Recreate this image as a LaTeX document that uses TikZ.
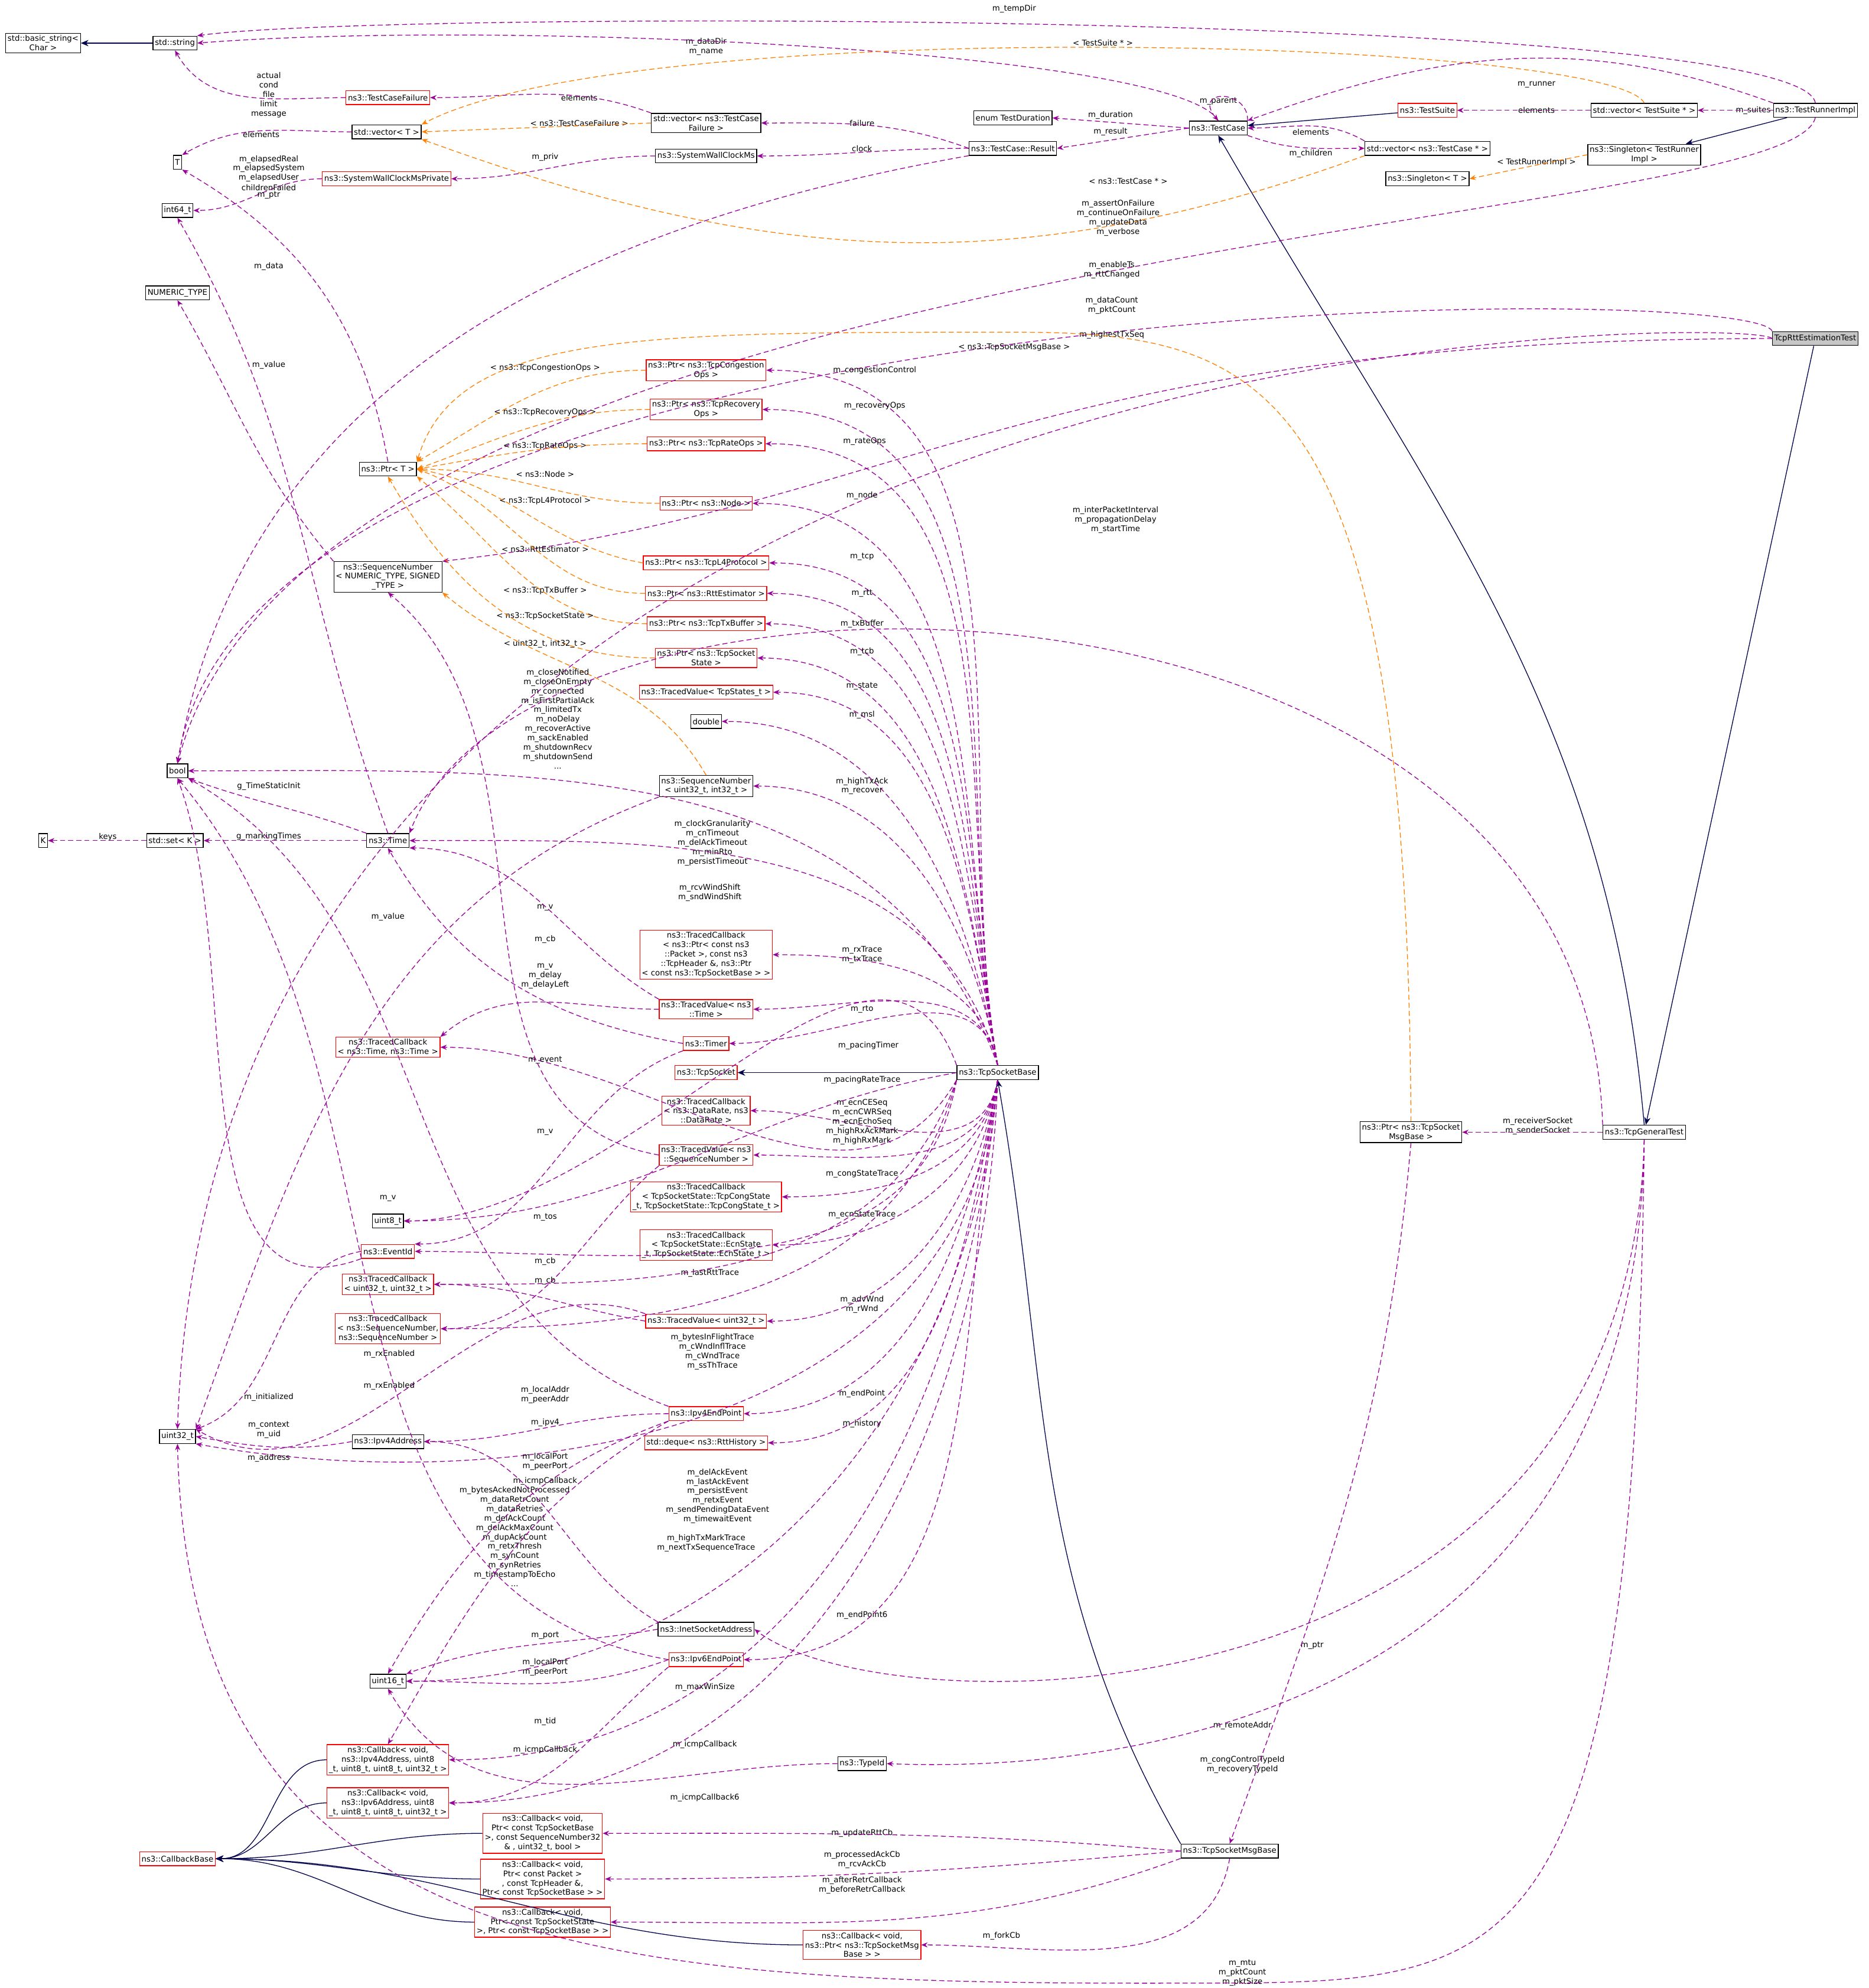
\documentclass[tikz,border=0pt]{standalone}
\usepackage{fontspec}
\setmainfont{DejaVu Sans}
\usetikzlibrary{arrows.meta}
\begin{document}
\begin{tikzpicture}[x=0.5pt,y=-0.5pt,line width=0.3pt,
  font=\fontsize{3.1}{3.7}\selectfont,
  cls/.style={draw=black,fill=white,inner sep=0.75pt,align=center,minimum height=5.5pt},
  rcls/.style={cls,draw=red},
  lbl/.style={align=center,inner sep=0pt},
  use/.style={draw=violet!80!magenta,dashed,dash pattern=on 2pt off 1.2pt,-{Stealth[length=2.5pt,width=2pt]}},
  tmpl/.style={draw=orange,dashed,dash pattern=on 2pt off 1.2pt,-{Stealth[length=2.5pt,width=2pt]}},
  inh/.style={draw=blue!30!black,-{Stealth[length=3pt,width=2.5pt]}}]
\useasboundingbox (0,0) rectangle (1474,1568);
\fill[white] (0,0) rectangle (1474,1568);
% left column
\node[cls] (bstr) at (34,34) {std::basic\_string\textless\\Char \textgreater};
\node[cls] (str) at (138,34) {std::string};
\node[rcls] (tcf) at (306,77) {ns3::TestCaseFailure};
\node[cls] (vecT) at (305,104) {std::vector\textless{} T \textgreater};
\node[cls] (T) at (140,128) {T};
\node[rcls] (swcp) at (305,141) {ns3::SystemWallClockMsPrivate};
\node[cls] (i64) at (140,166) {int64\_t};
\node[cls] (num) at (140,231) {NUMERIC\_TYPE};
\node[cls] (ptrT) at (306,370) {ns3::Ptr\textless{} T \textgreater};
\node[cls] (seqn) at (306,455) {ns3::SequenceNumber\\\textless{} NUMERIC\_TYPE, SIGNED\\\_TYPE \textgreater};
\node[cls] (bool) at (140,608) {bool};
\node[cls] (K) at (34,663) {K};
\node[cls] (setK) at (138,663) {std::set\textless{} K \textgreater};
\node[cls] (time) at (306,663) {ns3::Time};
\node[rcls] (tctt) at (306,826) {ns3::TracedCallback\\\textless{} ns3::Time, ns3::Time \textgreater};
\node[cls] (u8) at (306,963) {uint8\_t};
\node[rcls] (evt) at (306,987) {ns3::EventId};
\node[rcls] (tcu32) at (306,1013) {ns3::TracedCallback\\\textless{} uint32\_t, uint32\_t \textgreater};
\node[rcls] (tcseq) at (306,1048) {ns3::TracedCallback\\\textless{} ns3::SequenceNumber,\\ns3::SequenceNumber \textgreater};
\node[cls] (u32) at (140,1133) {uint32\_t};
\node[cls] (ip4) at (306,1137) {ns3::Ipv4Address};
\node[cls] (u16) at (306,1326) {uint16\_t};
\node[rcls] (cb4) at (306,1388) {ns3::Callback\textless{} void,\\ns3::Ipv4Address, uint8\\\_t, uint8\_t, uint8\_t, uint32\_t \textgreater};
\node[rcls] (cb6) at (306,1422) {ns3::Callback\textless{} void,\\ns3::Ipv6Address, uint8\\\_t, uint8\_t, uint8\_t, uint32\_t \textgreater};
\node[rcls] (cbb) at (140,1466) {ns3::CallbackBase};
% middle column
\node[cls] (vtcf) at (557,97) {std::vector\textless{} ns3::TestCase\\Failure \textgreater};
\node[cls] (swc) at (557,123) {ns3::SystemWallClockMs};
\node[rcls] (pcong) at (557,292) {ns3::Ptr\textless{} ns3::TcpCongestion\\Ops \textgreater};
\node[rcls] (prec) at (557,323) {ns3::Ptr\textless{} ns3::TcpRecovery\\Ops \textgreater};
\node[rcls] (prate) at (557,350) {ns3::Ptr\textless{} ns3::TcpRateOps \textgreater};
\node[rcls] (pnode) at (557,397) {ns3::Ptr\textless{} ns3::Node \textgreater};
\node[rcls] (pl4) at (557,444) {ns3::Ptr\textless{} ns3::TcpL4Protocol \textgreater};
\node[rcls] (prtt) at (557,468) {ns3::Ptr\textless{} ns3::RttEstimator \textgreater};
\node[rcls] (ptx) at (557,492) {ns3::Ptr\textless{} ns3::TcpTxBuffer \textgreater};
\node[rcls] (pst) at (557,519) {ns3::Ptr\textless{} ns3::TcpSocket\\State \textgreater};
\node[rcls] (tvst) at (557,546) {ns3::TracedValue\textless{} TcpStates\_t \textgreater};
\node[cls] (dbl) at (557,569) {double};
\node[cls] (sq32) at (557,620) {ns3::SequenceNumber\\\textless{} uint32\_t, int32\_t \textgreater};
\node[rcls] (tcpk) at (557,753) {ns3::TracedCallback\\\textless{} ns3::Ptr\textless{} const ns3\\::Packet \textgreater, const ns3\\::TcpHeader \&, ns3::Ptr\\\textless{} const ns3::TcpSocketBase \textgreater{} \textgreater};
\node[rcls] (tvtime) at (557,796) {ns3::TracedValue\textless{} ns3\\::Time \textgreater};
\node[rcls] (timer) at (557,823) {ns3::Timer};
\node[rcls] (tsock) at (557,846) {ns3::TcpSocket};
\node[rcls] (tcdr) at (557,876) {ns3::TracedCallback\\\textless{} ns3::DataRate, ns3\\::DataRate \textgreater};
\node[rcls] (tvseq) at (557,911) {ns3::TracedValue\textless{} ns3\\::SequenceNumber \textgreater};
\node[rcls] (tccong) at (557,944) {ns3::TracedCallback\\\textless{} TcpSocketState::TcpCongState\\\_t, TcpSocketState::TcpCongState\_t \textgreater};
\node[rcls] (tcecn) at (557,982) {ns3::TracedCallback\\\textless{} TcpSocketState::EcnState\\\_t, TcpSocketState::EcnState\_t \textgreater};
\node[rcls] (tvu32) at (557,1042) {ns3::TracedValue\textless{} uint32\_t \textgreater};
\node[rcls] (ep4) at (557,1115) {ns3::Ipv4EndPoint};
\node[rcls] (deq) at (557,1138) {std::deque\textless{} ns3::RttHistory \textgreater};
\node[cls] (inet) at (557,1285) {ns3::InetSocketAddress};
\node[rcls] (ep6) at (557,1309) {ns3::Ipv6EndPoint};
\node[cls] (tid) at (680,1391) {ns3::TypeId};
\node[rcls] (cbrtt) at (428,1446) {ns3::Callback\textless{} void,\\Ptr\textless{} const TcpSocketBase\\\textgreater, const SequenceNumber32\\\& , uint32\_t, bool \textgreater};
\node[rcls] (cbproc) at (428,1482) {ns3::Callback\textless{} void,\\Ptr\textless{} const Packet \textgreater\\, const TcpHeader \&,\\Ptr\textless{} const TcpSocketBase \textgreater{} \textgreater};
\node[rcls] (cbaft) at (428,1516) {ns3::Callback\textless{} void,\\Ptr\textless{} const TcpSocketState\\\textgreater, Ptr\textless{} const TcpSocketBase \textgreater{} \textgreater};
\node[rcls] (cbfork) at (680,1534) {ns3::Callback\textless{} void,\\ns3::Ptr\textless{} ns3::TcpSocketMsg\\Base \textgreater{} \textgreater};
% right part
\node[cls] (etd) at (799,93) {enum TestDuration};
\node[cls] (tcr) at (799,117) {ns3::TestCase::Result};
\node[cls] (tc) at (961,101) {ns3::TestCase};
\node[rcls] (ts) at (1126,87) {ns3::TestSuite};
\node[cls] (vts) at (1297,87) {std::vector\textless{} TestSuite * \textgreater};
\node[cls] (tri) at (1432,87) {ns3::TestRunnerImpl};
\node[cls] (vtc) at (1126,117) {std::vector\textless{} ns3::TestCase * \textgreater};
\node[cls] (sgl) at (1297,122) {ns3::Singleton\textless{} TestRunner\\Impl \textgreater};
\node[cls] (sglT) at (1126,141) {ns3::Singleton\textless{} T \textgreater};
\node[cls,fill=gray!45] (rtt) at (1432,267) {TcpRttEstimationTest};
\node[cls] (tsb) at (787,846) {ns3::TcpSocketBase};
\node[cls] (pmsg) at (1113,893) {ns3::Ptr\textless{} ns3::TcpSocket\\MsgBase \textgreater};
\node[cls] (tgt) at (1297,893) {ns3::TcpGeneralTest};
\node[cls] (msg) at (970,1460) {ns3::TcpSocketMsgBase};

% inheritance
\draw[inh] (str) -- (bstr);
\draw[inh] (ts) -- (tc);
\draw[inh] (tri) -- (sgl);
\draw[inh] (tsb) -- (tsock);
\draw[inh] (rtt) -- (tgt);
\draw[inh] (tgt.north) to[out=95,in=-60] (tc.south);
\draw[inh] (msg.north west) to[out=120,in=-80] (tsb.south);
\foreach \c in {cb4,cb6,cbrtt,cbproc,cbaft,cbfork} \draw[inh] (\c.west) to[out=180,in=0] (cbb.east);

% labels (top area)
\node[lbl] (l1) at (212,75) {actual\\cond\\file\\limit\\message};
\draw[use] (tcf.west) to[out=180,in=-60] (str.south);
\node[lbl] (l2) at (457,77) {elements};
\draw[use] (vtcf.north west) to[out=160,in=0] (tcf.east);
\node[lbl] (l3) at (457,97) {\textless{} ns3::TestCaseFailure \textgreater};
\draw[tmpl] (vtcf.west) -- (vecT.east);
\node[lbl] (l4) at (206,106) {elements};
\draw[use] (vecT.west) to[out=180,in=30] (T.north east);
\node[lbl] (l5) at (212,133) {m\_elapsedReal\\m\_elapsedSystem\\m\_elapsedUser};
\draw[use] (swcp.west) to[out=180,in=0] (i64.east);
\node[lbl] (l6) at (430,124) {m\_priv};
\draw[use] (swc.west) to[out=180,in=0] (swcp.east);
\node[lbl] (l7) at (680,97) {failure};
\draw[use] (tcr.west) to[out=160,in=0] (vtcf.east);
\node[lbl] (l8) at (680,117) {clock};
\draw[use] (tcr.west) to[out=180,in=0] (swc.east);
\node[lbl] (l9) at (212,148) {childrenFailed};
\draw[use] (tcr.south west) to[out=190,in=80] (bool.north);
\node[lbl] (l10) at (876,104) {m\_result};
\draw[use] (tc.west) -- (tcr.east);
\node[lbl] (l11) at (876,91) {m\_duration};
\draw[use] (tc.west) -- (etd.east);
\node[lbl] (l12) at (557,37) {m\_dataDir\\m\_name};
\draw[use] (tc.north) .. controls (930,40) and (400,15) .. (str.east);
\node[lbl] (l13) at (961,80) {m\_parent};
\draw[use] (tc.north east) .. controls (985,70) and (940,70) .. (tc.north);
\node[lbl] (l14) at (1034,121) {m\_children};
\draw[use] (tc.south east) to[out=-20,in=180] (vtc.west);
\node[lbl] (l15) at (1034,104) {elements};
\draw[use] (vtc.north west) to[out=150,in=0] (tc.east);
\node[lbl] (l16) at (890,143) {\textless{} ns3::TestCase * \textgreater};
\draw[tmpl] (vtc.south west) to[out=200,in=-20] (vecT.south east);
\node[lbl] (l17) at (1212,87) {elements};
\draw[use] (vts.west) -- (ts.east);
\node[lbl] (l18) at (870,34) {\textless{} TestSuite * \textgreater};
\draw[tmpl] (vts.north) .. controls (1270,30) and (500,10) .. (vecT.north east);
\node[lbl] (l19) at (1383,87) {m\_suites};
\draw[use] (tri.west) -- (vts.east);
\node[lbl] (l20) at (1212,67) {m\_runner};
\draw[use] (tri.north west) to[out=160,in=20] (tc.north east);
\node[lbl] (l21) at (800,7) {m\_tempDir};
\draw[use] (tri.north) .. controls (1420,8) and (300,8) .. (str.north east);
\node[lbl] (l22) at (882,172) {m\_assertOnFailure\\m\_continueOnFailure\\m\_updateData\\m\_verbose};
\draw[use] (tri.south) .. controls (1410,185) and (250,185) .. (bool.north);
\node[lbl] (l23) at (1212,128) {\textless{} TestRunnerImpl \textgreater};
\draw[tmpl] (sgl.west) -- (sglT.east);
\node[lbl] (l24) at (877,213) {m\_enableTs\\m\_rttChanged};
\draw[use] (rtt.north west) .. controls (1380,220) and (200,222) .. (bool.north);
\node[lbl] (l25) at (877,241) {m\_dataCount\\m\_pktCount};
\draw[use] (rtt.west) .. controls (1380,248) and (170,245) .. (u32.north);
\node[lbl] (l26) at (877,264) {m\_highestTxSeq};
\draw[use] (rtt.west) .. controls (800,268) and (720,400) .. (seqn.north east);
\node[lbl] (l27) at (212,154) {m\_ptr};
\draw[use] (ptrT.north) to[out=100,in=-30] (T.south east);
% Ptr templates
\node[lbl] (t1) at (430,290) {\textless{} ns3::TcpCongestionOps \textgreater};
\draw[tmpl] (pcong.west) to[out=180,in=30] (ptrT.north east);
\node[lbl] (t2) at (430,325) {\textless{} ns3::TcpRecoveryOps \textgreater};
\draw[tmpl] (prec.west) to[out=180,in=20] (ptrT.east);
\node[lbl] (t3) at (430,352) {\textless{} ns3::TcpRateOps \textgreater};
\draw[tmpl] (prate.west) to[out=180,in=10] (ptrT.east);
\node[lbl] (t4) at (430,374) {\textless{} ns3::Node \textgreater};
\draw[tmpl] (pnode.west) to[out=180,in=0] (ptrT.east);
\node[lbl] (t5) at (430,395) {\textless{} ns3::TcpL4Protocol \textgreater};
\draw[tmpl] (pl4.west) to[out=170,in=-10] (ptrT.east);
\node[lbl] (t6) at (430,433) {\textless{} ns3::RttEstimator \textgreater};
\draw[tmpl] (prtt.west) to[out=180,in=-20] (ptrT.east);
\node[lbl] (t7) at (430,466) {\textless{} ns3::TcpTxBuffer \textgreater};
\draw[tmpl] (ptx.west) to[out=180,in=-40] (ptrT.south east);
\node[lbl] (t8) at (430,486) {\textless{} ns3::TcpSocketState \textgreater};
\draw[tmpl] (pst.west) to[out=180,in=-60] (ptrT.south);
\node[lbl] (t9) at (800,274) {\textless{} ns3::TcpSocketMsgBase \textgreater};
\draw[tmpl] (pmsg.north) .. controls (1110,300) and (1000,262) .. (800,262) .. controls (500,262) and (360,262) .. (ptrT.north east);
\node[lbl] (t10) at (430,508) {\textless{} uint32\_t, int32\_t \textgreater};
\draw[tmpl] (sq32.north) to[out=120,in=-40] (seqn.south east);
\node[lbl] (l28) at (212,288) {m\_value};
\draw[use] (seqn.north west) to[out=130,in=-60] (num.south);
\node[lbl] (l29) at (212,210) {m\_data};
\draw[use] (time.north) to[out=110,in=-60] (i64.south);
\node[lbl] (l30) at (212,620) {g\_TimeStaticInit};
\draw[use] (time.north west) to[out=160,in=-20] (bool.south east);
\node[lbl] (l31) at (212,660) {g\_markingTimes};
\draw[use] (time.west) -- (setK.east);
\node[lbl] (l32) at (85,660) {keys};
\draw[use] (setK.west) -- (K.east);
\node[lbl] (l33) at (306,723) {m\_value};
\draw[use] (sq32.south west) to[out=200,in=70] (u32.north east);
% TcpSocketBase members (upper)
\foreach \t/\lx/\ly/\tx in {
  pcong/690/292/m\_congestionControl, prec/690/320/m\_recoveryOps,
  prate/682/348/m\_rateOps, pnode/680/391/m\_node, pl4/680/439/m\_tcp,
  prtt/680/468/m\_rtt, ptx/680/492/m\_txBuffer, pst/680/514/m\_tcb,
  tvst/680/541/m\_state, dbl/680/564/m\_msl, tvtime/680/796/m\_rto,
  timer/685/825/m\_pacingTimer}{
  \node[lbl] (L\t) at (\lx,\ly) {\tx};
  \draw[use] (tsb.north) to[out=100,in=0] (\t.east);}
\node[lbl] (Lsq) at (680,620) {m\_highTxAck\\m\_recover};
\draw[use] (tsb.north) to[out=100,in=0] (sq32.east);
\node[lbl] (Ltime) at (562,665) {m\_clockGranularity\\m\_cnTimeout\\m\_delAckTimeout\\m\_minRto\\m\_persistTimeout};
\draw[use] (tsb.north) to[out=105,in=0] (time.east);
\node[lbl] (Lu8) at (560,704) {m\_rcvWindShift\\m\_sndWindShift};
\draw[use] (tsb.north west) to[out=110,in=0] (u8.east);
\node[lbl] (Lpk) at (680,753) {m\_rxTrace\\m\_txTrace};
\draw[use] (tsb.north) to[out=100,in=0] (tcpk.east);
\node[lbl] (Lbool) at (440,567) {m\_closeNotified\\m\_closeOnEmpty\\m\_connected\\m\_isFirstPartialAck\\m\_limitedTx\\m\_noDelay\\m\_recoverActive\\m\_sackEnabled\\m\_shutdownRecv\\m\_shutdownSend\\...};
\draw[use] (tsb.north) to[out=110,in=0] (bool.east);
% lower
\foreach \t/\lx/\ly/\tx in {
  tcdr/680/852/m\_pacingRateTrace, tccong/680/926/m\_congStateTrace,
  tcecn/680/958/m\_ecnStateTrace, ep4/680/1099/m\_endPoint,
  deq/680/1123/m\_history, ep6/680/1274/m\_endPoint6}{
  \node[lbl] (L\t) at (\lx,\ly) {\tx};
  \draw[use] (tsb.south) to[out=-100,in=0] (\t.east);}
\node[lbl] (Ltvseq) at (680,885) {m\_ecnCESeq\\m\_ecnCWRSeq\\m\_ecnEchoSeq\\m\_highRxAckMark\\m\_highRxMark};
\draw[use] (tsb.south) to[out=-100,in=0] (tvseq.east);
\node[lbl] (Ltvu) at (680,1029) {m\_advWnd\\m\_rWnd};
\draw[use] (tsb.south) to[out=-100,in=0] (tvu32.east);
\node[lbl] (Lrtt) at (560,1004) {m\_lastRttTrace};
\draw[use] (tsb.south west) to[out=-120,in=0] (tctt.east);
\node[lbl] (Lbif) at (562,1066) {m\_bytesInFlightTrace\\m\_cWndInflTrace\\m\_cWndTrace\\m\_ssThTrace};
\draw[use] (tsb.south west) to[out=-110,in=0] (tcu32.east);
\node[lbl] (Lhtx) at (557,1217) {m\_highTxMarkTrace\\m\_nextTxSequenceTrace};
\draw[use] (tsb.south west) to[out=-105,in=0] (tcseq.east);
\node[lbl] (Lev) at (566,1180) {m\_delAckEvent\\m\_lastAckEvent\\m\_persistEvent\\m\_retxEvent\\m\_sendPendingDataEvent\\m\_timewaitEvent};
\draw[use] (tsb.south west) to[out=-100,in=0] (evt.east);
\node[lbl] (Lu32) at (406,1212) {m\_bytesAckedNotProcessed\\m\_dataRetrCount\\m\_dataRetries\\m\_delAckCount\\m\_delAckMaxCount\\m\_dupAckCount\\m\_retxThresh\\m\_synCount\\m\_synRetries\\m\_timestampToEcho\\...};
\draw[use] (tsb.south) to[out=-95,in=-10] (u32.south east);
\node[lbl] (Ltos) at (430,960) {m\_tos};
\draw[use] (tsb.west) to[out=190,in=0] (u8.east);
\node[lbl] (Lmws) at (556,1331) {m\_maxWinSize};
\draw[use] (tsb.south) to[out=-95,in=0] (u16.east);
\node[lbl] (Licb) at (556,1376) {m\_icmpCallback};
\draw[use] (tsb.south) to[out=-95,in=0] (cb4.east);
\node[lbl] (Licb6) at (556,1418) {m\_icmpCallback6};
\draw[use] (tsb.south) to[out=-92,in=0] (cb6.east);
% member types' members
\node[lbl] (Lv1) at (430,716) {m\_v};
\draw[use] (tvtime.north west) to[out=150,in=0] (time.south east);
\node[lbl] (Lcb1) at (430,741) {m\_cb};
\draw[use] (tvtime.west) to[out=180,in=40] (tctt.north east);
\node[lbl] (Ldel) at (430,770) {m\_v\\m\_delay\\m\_delayLeft};
\draw[use] (timer.west) to[out=170,in=-60] (time.south);
\node[lbl] (Lev2) at (430,836) {m\_event};
\draw[use] (timer.south west) to[out=200,in=0] (evt.north east);
\node[lbl] (Lv3) at (306,945) {m\_v};
\draw[use] (tvu32.north west) to[out=160,in=-30] (u32.north east);
\node[lbl] (Lv4) at (430,893) {m\_v};
\draw[use] (tvseq.west) to[out=170,in=-40] (seqn.south);
\node[lbl] (Lcb2) at (430,995) {m\_cb};
\draw[use] (tvu32.west) to[out=170,in=0] (tcu32.east);
\node[lbl] (Lcb3) at (430,1010) {m\_cb};
\draw[use] (tvseq.south west) to[out=220,in=0] (tcseq.east);
\node[lbl] (Lla) at (430,1100) {m\_localAddr\\m\_peerAddr};
\draw[use] (ep4.west) to[out=180,in=0] (ip4.east);
\node[lbl] (Llp) at (430,1153) {m\_localPort\\m\_peerPort};
\draw[use] (ep4.south west) to[out=200,in=60] (u16.north);
\node[lbl] (Lic4) at (430,1168) {m\_icmpCallback};
\draw[use] (ep4.south west) to[out=210,in=60] (cb4.north);
\node[lbl] (Lrx1) at (307,1068) {m\_rxEnabled};
\draw[use] (ep4.north west) to[out=160,in=-30] (bool.south east);
\node[lbl] (Lrx2) at (307,1093) {m\_rxEnabled};
\draw[use] (ep6.west) to[out=170,in=-50] (bool.south);
\node[lbl] (Lad) at (212,1150) {m\_address};
\draw[use] (ip4.west) to[out=190,in=-10] (u32.east);
\node[lbl] (Lctx) at (212,1128) {m\_context\\m\_uid};
\draw[use] (evt.west) to[out=190,in=20] (u32.north east);
\node[lbl] (Lini) at (212,1102) {m\_initialized};
\draw[use] (evt.south west) to[out=200,in=-70] (bool.south);
\node[lbl] (Lport) at (430,1290) {m\_port};
\draw[use] (inet.west) to[out=190,in=20] (u16.north east);
\node[lbl] (Lip4) at (430,1122) {m\_ipv4};
\draw[use] (inet.north west) to[out=150,in=0] (ip4.east);
\node[lbl] (Llp6) at (430,1315) {m\_localPort\\m\_peerPort};
\draw[use] (ep6.west) to[out=200,in=0] (u16.east);
\node[lbl] (Lic6) at (430,1380) {m\_icmpCallback};
\draw[use] (ep6.south west) to[out=220,in=0] (cb6.east);
\node[lbl] (Ltid) at (430,1358) {m\_tid};
\draw[use] (tid.west) to[out=180,in=-60] (u16.south);
% msg base
\node[lbl] (Lur) at (680,1446) {m\_updateRttCb};
\draw[use] (msg.west) to[out=175,in=0] (cbrtt.east);
\node[lbl] (Lpr) at (680,1467) {m\_processedAckCb\\m\_rcvAckCb};
\draw[use] (msg.west) to[out=185,in=0] (cbproc.east);
\node[lbl] (Laf) at (680,1487) {m\_afterRetrCallback\\m\_beforeRetrCallback};
\draw[use] (msg.south west) to[out=200,in=0] (cbaft.east);
\node[lbl] (Lfk) at (790,1527) {m\_forkCb};
\draw[use] (msg.south) to[out=-100,in=0] (cbfork.east);
% general test
\node[lbl] (Lrs) at (1213,888) {m\_receiverSocket\\m\_senderSocket};
\draw[use] (tgt.west) -- (pmsg.east);
\node[lbl] (Lra) at (980,1361) {m\_remoteAddr};
\draw[use] (tgt.south) .. controls (1285,1368) and (700,1365) .. (inet.east);
\node[lbl] (Lcc) at (980,1392) {m\_congControlTypeId\\m\_recoveryTypeId};
\draw[use] (tgt.south) .. controls (1290,1398) and (800,1395) .. (tid.east);
\node[lbl] (Lmtu) at (980,1556) {m\_mtu\\m\_pktCount\\m\_pktSize};
\draw[use] (tgt.south) .. controls (1290,1540) and (1200,1562) .. (980,1564) .. controls (500,1566) and (150,1560) .. (u32.south);
\node[lbl] (Lipi) at (880,410) {m\_interPacketInterval\\m\_propagationDelay\\m\_startTime};
\draw[use] (tgt.north west) .. controls (1250,420) and (420,410) .. (time.north east);
\node[lbl] (Lptr) at (1035,1298) {m\_ptr};
\draw[use] (pmsg.south) to[out=-95,in=70] (msg.north);
\end{tikzpicture}
\end{document}
